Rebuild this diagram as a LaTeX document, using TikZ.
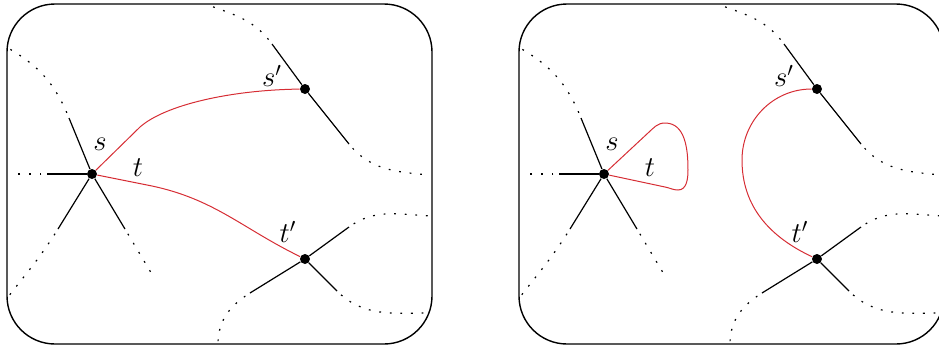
\documentclass[tikz,border=0pt]{standalone}
\usepackage{amsmath}
\usepackage{tikz}
\usetikzlibrary{positioning}
\usepackage{xcolor}
\definecolor{edgered}{RGB}{214,45,52}

\newcommand{\surfacepanel}[1]{%
  \draw[frame] (7,4) rectangle (432,344);
  \node[vtx] (#1s) at (92,174) {};
  \node[vtx] (#1sp) at (305,89) {};
  \node[vtx] (#1tp) at (305,259) {};
  \coordinate (#1a1) at (47,174);   \coordinate (#1b1) at (13,174);
  \coordinate (#1a2) at (69,118);   \coordinate (#1b2) at (8,48);
  \coordinate (#1a3) at (58,229);   \coordinate (#1b3) at (8,297);
  \coordinate (#1a4) at (125,229);  \coordinate (#1b4) at (153,276);
  \coordinate (#1c1) at (272,44);   \coordinate (#1d1) at (208,5);
  \coordinate (#1c2) at (349,144);  \coordinate (#1d2) at (430,175);
  \coordinate (#1e1) at (349,227);  \coordinate (#1f1) at (432,216);
  \coordinate (#1e2) at (250,293);  \coordinate (#1f2) at (218,344);
  \coordinate (#1e3) at (337,291);  \coordinate (#1f3) at (430,313);
  \foreach \k in {1,2,3,4} \draw[spoke] (#1s) -- (#1a\k);
  \foreach \k in {1,2} \draw[spoke] (#1sp) -- (#1c\k);
  \foreach \k in {1,2,3} \draw[spoke] (#1tp) -- (#1e\k);
  \draw[ghost] (#1a1) -- (#1b1);
  \draw[ghost] (#1a2) to[out=112,in=-30] (#1b2);
  \draw[ghost] (#1a3) to[out=238,in=52] (#1b3);
  \draw[ghost] (#1a4) -- (#1b4);
  \draw[ghost] (#1c1) to[out=126,in=-20] (#1d1);
  \draw[ghost] (#1c2) to[out=-51,in=175] (#1d2);
  \draw[ghost] (#1e1) to[out=36,in=178] (#1f1);
  \draw[ghost] (#1e2) to[out=212,in=90] (#1f2);
  \draw[ghost] (#1e3) to[out=-45,in=180] (#1f3);
}

\begin{document}
\begin{tikzpicture}[
  x=0.5pt, y=-0.5pt,
  frame/.style={line width=0.7pt, rounded corners=24pt},
  vtx/.style={circle, fill=black, inner sep=0pt, minimum size=5pt},
  spoke/.style={line width=0.6pt},
  ghost/.style={line width=0.6pt, dash pattern=on 0.9pt off 4.4pt, dash phase=2.5pt},
  redge/.style={draw=edgered, line width=0.5pt},
  lbl/.style={font=\Large, inner sep=0pt}
]
  \useasboundingbox (0,0) rectangle (939,350);

  \surfacepanel{L}
  \begin{scope}[shift={(512,0)}]
    \surfacepanel{R}
  \end{scope}

  \coordinate (Lbend1) at (140,127);
  \coordinate (Lbend2) at (152,186);
  \draw[redge] (Ls) -- (Lbend1) .. controls (165,105) and (230,90) .. (Lsp);
  \draw[redge] (Ls) -- (Lbend2) to[out=-12,in=154] (Ltp);

  \coordinate (Rloop1) at (648,133);
  \coordinate (Rloop2) at (665,123);
  \coordinate (Rloop3) at (688,170);
  \coordinate (Rloop4) at (678,190);
  \coordinate (Rloop5) at (665,187);
  \coordinate (Rarc) at (742,160);
  \draw[redge] (Rs) -- (Rloop1) to[out=42,in=180] (Rloop2) to[out=0,in=90] (Rloop3)
    to[out=-90,in=0] (Rloop4) to[out=180,in=-10] (Rloop5) -- (Rs);
  \draw[redge] (Rsp) to[out=180,in=90] (Rarc) to[out=-90,in=155] (Rtp);

  \node[lbl] (Lslbl) at (100,144) {$s$};
  \node[lbl] (Ltlbl) at (138,168) {$t$};
  \node[lbl] (Lsplbl) at (272,76) {$s'$};
  \node[lbl] (Ltplbl) at (288,232) {$t'$};
  \node[lbl] (Rslbl) at (612,144) {$s$};
  \node[lbl] (Rtlbl) at (650,168) {$t$};
  \node[lbl] (Rsplbl) at (784,76) {$s'$};
  \node[lbl] (Rtplbl) at (800,232) {$t'$};
\end{tikzpicture}
\end{document}
